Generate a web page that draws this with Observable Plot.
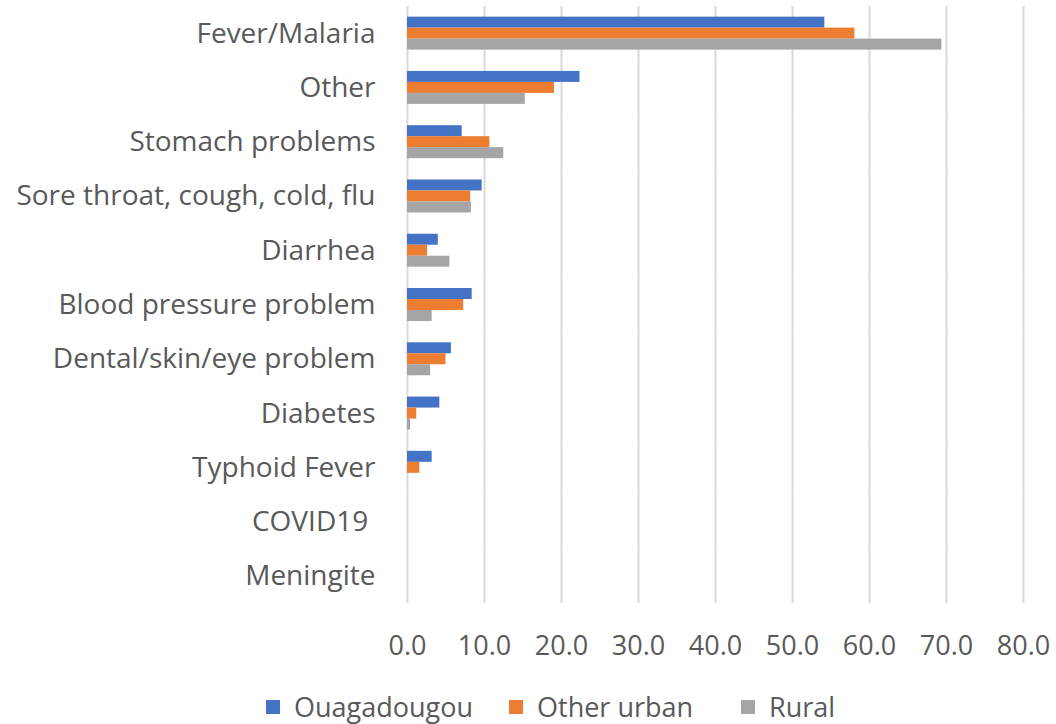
<!DOCTYPE html>
<html><head><meta charset="utf-8">
<script src="https://cdn.jsdelivr.net/npm/d3@7"></script>
<script src="https://cdn.jsdelivr.net/npm/@observablehq/plot@0.6"></script>
<style>
body{margin:0;background:#fff;font-family:"Open Sans",sans-serif;}
#wrap{position:relative;width:1056px;height:724px;}
#legend{position:absolute;left:0;top:690px;width:1056px;height:34px;font-size:27px;color:#595959;line-height:34px;}
.sw{width:14px;height:14px;display:inline-block;margin-right:14px;}
.item{position:absolute;top:0;display:flex;align-items:center;white-space:nowrap;}
</style>
</head><body><div id="wrap"><div id="chart"></div><div id="legend"></div></div>
<script>
const categories = ["Fever/Malaria","Other","Stomach problems","Sore throat, cough, cold, flu","Diarrhea","Blood pressure problem","Dental/skin/eye problem","Diabetes","Typhoid Fever","COVID19 ","Meningite"];
const series = ["Ouagadougou","Other urban","Rural"];
const ouagadougou = [54.2, 22.4, 7.1, 9.7, 4.0, 8.4, 5.7, 4.2, 3.2, 0, 0];
const otherUrban  = [58.1, 19.1, 10.7, 8.2, 2.6, 7.3, 5.0, 1.2, 1.6, 0, 0];
const rural       = [69.4, 15.3, 12.5, 8.3, 5.5, 3.2, 3.0, 0.4, 0, 0, 0];
const colors = ["#4472C4","#ED7D31","#A5A5A5"];
const xTicks = [0,10,20,30,40,50,60,70,80];

const seriesValues = [ouagadougou, otherUrban, rural];
const data = [];
categories.forEach((c,i)=>series.forEach((s,j)=>data.push({category:c, series:s, value:seriesValues[j][i]})));

const chart = Plot.plot({
  width:1056, height:672,
  marginLeft:407, marginRight:33, marginTop:6, marginBottom:69,
  style:{fontFamily:"Open Sans, sans-serif", color:"#595959", background:"#fff"},
  x:{domain:[0,80], label:null},
  fy:{domain:categories, padding:0, label:null, round:false},
  y:{domain:series, paddingInner:0, paddingOuter:0.97, axis:null, round:false},
  color:{domain:series, range:colors},
  marks:[
    Plot.gridX(xTicks, {stroke:"#D9D9D9", strokeOpacity:1, strokeWidth:2}),
    Plot.barX(data, {x:"value", y:"series", fy:"category", fill:"series"}),
    Plot.axisX(xTicks, {tickFormat:d=>d.toFixed(1), tickSize:0, tickPadding:32, fontSize:27, label:null, fill:"#595959"}),
    Plot.axisFy({anchor:"left", tickSize:0, tickPadding:32, fontSize:28, label:null, fill:"#595959"})
  ]
});
document.getElementById("chart").appendChild(chart);

const legendLefts = [266, 509, 741];
const legend = document.getElementById("legend");
series.forEach((s,i)=>{
  const it = document.createElement("div"); it.className="item"; it.style.left = legendLefts[i] + "px";
  const sw = document.createElement("span"); sw.className="sw"; sw.style.background=colors[i];
  const t = document.createElement("span"); t.textContent=s;
  it.appendChild(sw); it.appendChild(t); legend.appendChild(it);
});
</script>
</body></html>
